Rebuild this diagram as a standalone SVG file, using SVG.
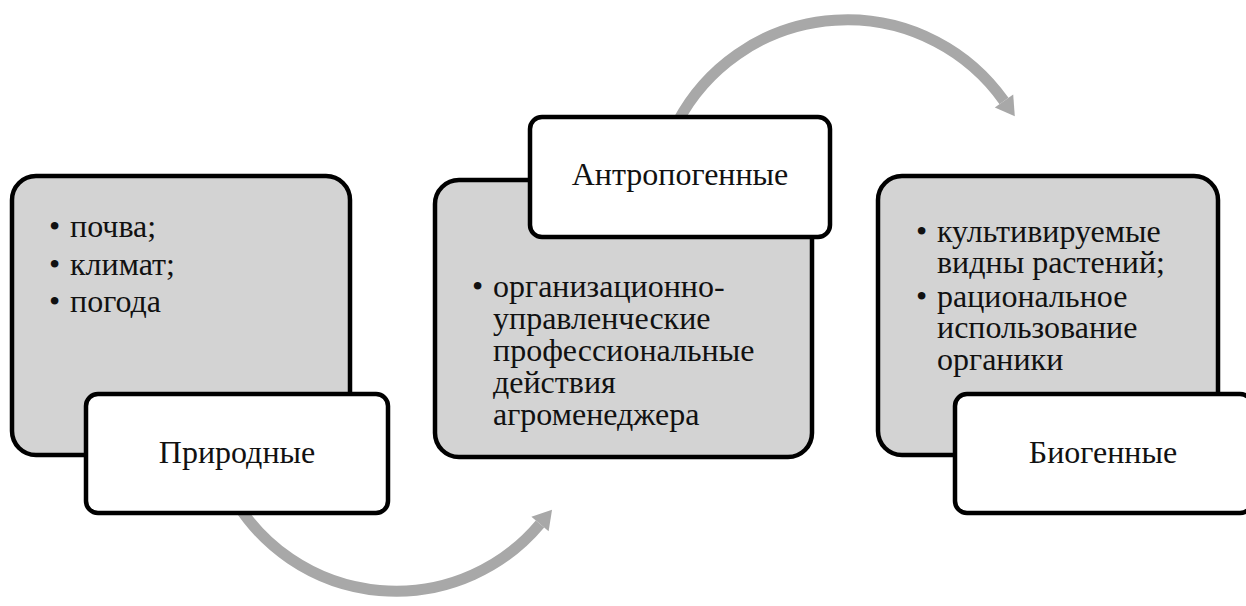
<svg xmlns="http://www.w3.org/2000/svg" width="1246" height="606" viewBox="0 0 1246 606">
<style>
.bg{fill:#d3d3d3;stroke:#000;stroke-width:4.5}
.lb{fill:#fff;stroke:#000;stroke-width:4.5}
.t{font-family:'Liberation Serif','DejaVu Serif','Times New Roman',serif;font-size:32px;fill:#111}
.c{text-anchor:middle}
.arc{fill:none;stroke:#a8a8a8;stroke-width:11}
</style>
<defs>
<marker id="ah" markerUnits="userSpaceOnUse" markerWidth="30" markerHeight="30" viewBox="0 -12 20 24" refX="0" refY="0" orient="auto">
<path d="M0,-9 L15,0 L0,9 z" fill="#a8a8a8"/>
</marker>
</defs>
<rect width="1246" height="606" fill="#fff"/>
<g id="connectors">
<path class="arc" d="M233,497 A188,188 0 0 0 540,524" marker-end="url(#ah)"/>
<path class="arc" d="M677.5,122 A192,192 0 0 1 1004,101" marker-end="url(#ah)"/>
</g>
<g id="node-prirodnye">
<rect class="bg" x="12" y="176" width="338" height="279" rx="24"/>
<text class="t" x="49" y="237">•</text><text class="t" x="70" y="237">почва;</text>
<text class="t" x="49" y="275">•</text><text class="t" x="70" y="275">климат;</text>
<text class="t" x="49" y="312">•</text><text class="t" x="70" y="312">погода</text>
<rect class="lb" x="86" y="394" width="302" height="119" rx="12"/>
<text class="t c" x="237" y="463">Природные</text>
</g>
<g id="node-antropogennye">
<rect class="bg" x="435" y="180" width="377" height="277" rx="24"/>
<text class="t" x="472" y="297">•</text>
<text class="t" x="493" y="297">организационно-</text>
<text class="t" x="493" y="329">управленческие</text>
<text class="t" x="493" y="361">профессиональные</text>
<text class="t" x="493" y="393">действия</text>
<text class="t" x="493" y="425">агроменеджера</text>
<rect class="lb" x="530" y="117" width="300" height="120" rx="12"/>
<text class="t c" x="680" y="185">Антропогенные</text>
</g>
<g id="node-biogennye">
<rect class="bg" x="878" y="176" width="340" height="279" rx="24"/>
<text class="t" x="916" y="242">•</text><text class="t" x="937" y="242">культивируемые</text>
<text class="t" x="937" y="273">видны растений;</text>
<text class="t" x="916" y="307">•</text><text class="t" x="937" y="307">рациональное</text>
<text class="t" x="937" y="338">использование</text>
<text class="t" x="937" y="370">органики</text>
<rect class="lb" x="955" y="394" width="297" height="119" rx="12"/>
<text class="t c" x="1103" y="463">Биогенные</text>
</g>
</svg>
